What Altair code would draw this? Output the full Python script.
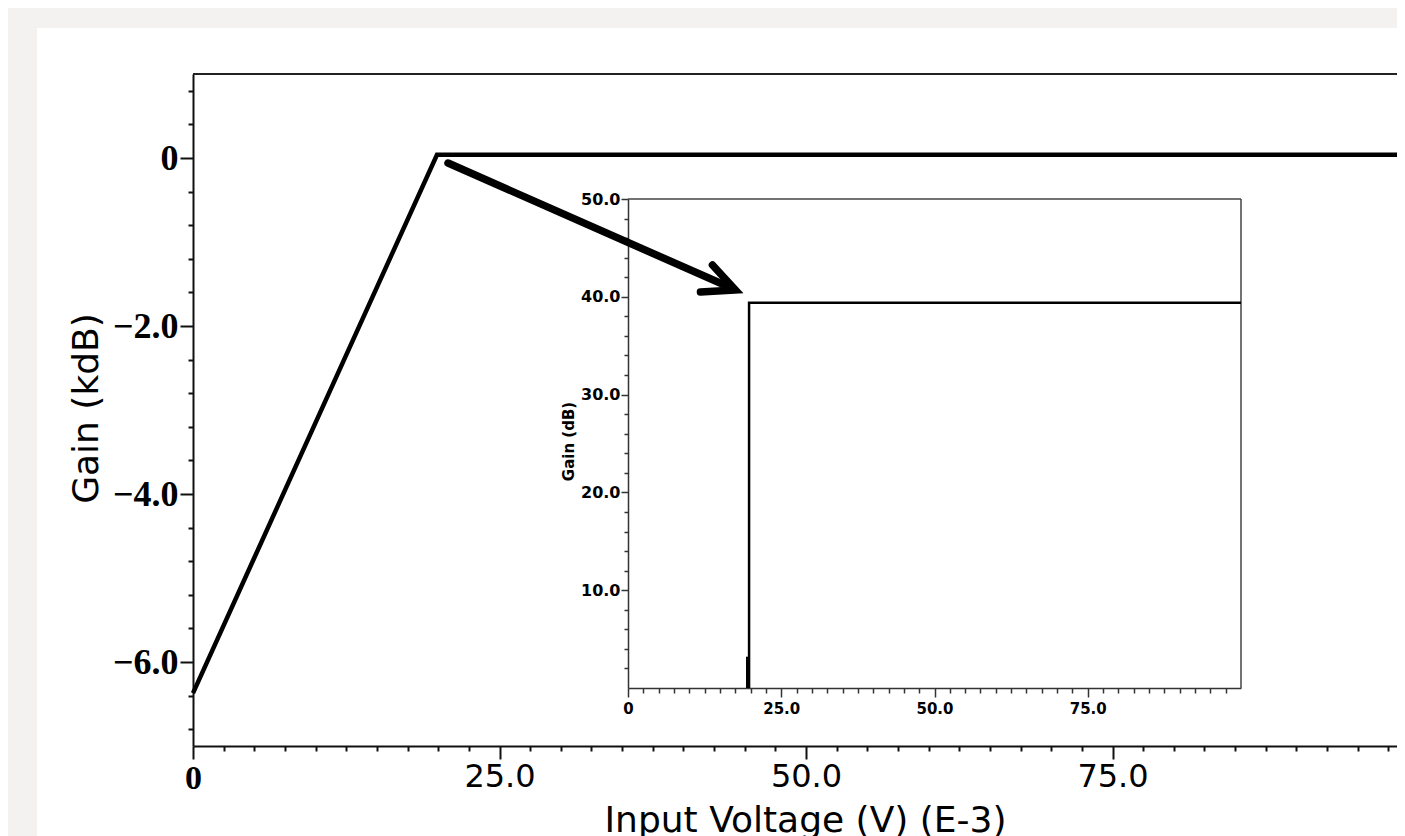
import altair as alt
import pandas as pd

# ---------------- data ----------------
# main trace: gain in kdB vs input voltage in mV
main_x = [0, 19.9, 100]
main_y = [-6.37, 0.039, 0.039]

# inset trace: gain in dB vs input voltage in mV (visible part, 0..50 dB)
inset_x = [19.75, 19.75, 100]
inset_y = [0, 39.4, 39.4]
stub_x = [19.45, 19.45]
stub_y = [0, 3.2]

# annotation arrow, in main-chart data units
arrow_x = [20.8, 44.1, 42.37, 44.24, 41.39]
arrow_y = [-0.06, -1.56, -1.274, -1.571, -1.595]
arrow_seg = ["shaft", "shaft", "head", "head", "head"]
arrow_ord = [0, 1, 0, 1, 2]

# ticks
main_x_ticks = [0, 25, 50, 75]
main_y_ticks = [0, -2, -4, -6]
inset_x_ticks = [0, 25, 50, 75]
inset_y_ticks = [10, 20, 30, 40, 50]
main_x_minor = [i * 2.5 for i in range(41) if i % 10 != 0]
main_y_minor = [round(-6.8 + 0.4 * i, 1) for i in range(20)
                if round(-6.8 + 0.4 * i, 1) not in (-6, -4, -2, 0)]
inset_x_minor = [i * 2.5 for i in range(40) if i % 10 != 0]
inset_y_minor = [v for v in range(2, 50, 2) if v % 10 != 0]

main_x_domain = [0, 100]
main_y_domain = [-7, 1]
inset_x_domain = [0, 100]
inset_y_domain = [0, 50]

# ---------------- layout (pixels) ----------------
W, H = 1204, 672
MX = alt.Scale(domain=main_x_domain, range=[0, 1226], nice=False, zero=False)
MY = alt.Scale(domain=main_y_domain, range=[672, 0], nice=False, zero=False)
IX = alt.Scale(domain=inset_x_domain, range=[435, 1048], nice=False, zero=False)
IY = alt.Scale(domain=inset_y_domain, range=[614, 125], nice=False, zero=False)

lab_expr = "datum.value == 0 ? '0' : format(datum.value, '.1f')"
INK = "#111111"

main_x_axis = alt.Axis(
    orient="bottom", values=main_x_ticks, grid=False,
    tickSize=13, tickWidth=2, tickColor=INK, domainColor=INK, domainWidth=2,
    labelExpr=lab_expr, labelColor="#000", labelPadding=2,
    labelFont={"condition": {"test": "datum.value == 0", "value": "Liberation Serif"}, "value": "DejaVu Sans"},
    labelFontWeight={"condition": {"test": "datum.value == 0", "value": "bold"}, "value": "normal"},
    labelFontSize={"condition": {"test": "datum.value == 0", "value": 34}, "value": 32},
    labelFlush=False, labelOverlap=False,
    title="Input Voltage (V) (E-3)", titleFont="DejaVu Sans", titleFontSize=36,
    titleFontWeight="normal", titleColor="#000", titleX=612, titleY=57, titleBaseline="top",
)
main_y_axis = alt.Axis(
    orient="left", values=main_y_ticks, grid=False,
    tickSize=13, tickWidth=2, tickColor=INK, domainColor=INK, domainWidth=2,
    labelExpr=lab_expr, labelColor="#000", labelPadding=2,
    labelFont="Liberation Serif", labelFontWeight="bold", labelFontSize=36,
    labelFlush=False, labelOverlap=False,
    title="Gain (kdB)", titleFont="DejaVu Sans", titleFontSize=36, titleFontWeight="normal",
    titleColor="#000", titleX=-107, titleY=334, titleBaseline="middle", titleAngle=270,
)
main_x_minor_axis = alt.Axis(
    orient="bottom", values=main_x_minor, grid=False, labels=False, domain=False,
    tickSize=5, tickWidth=2, tickColor=INK, title=None,
)
main_y_minor_axis = alt.Axis(
    orient="left", values=main_y_minor, grid=False, labels=False, domain=False,
    tickSize=5, tickWidth=2, tickColor=INK, title=None,
)

IN_INK = "#333333"
inset_x_axis = alt.Axis(
    orient="bottom", offset=-58, values=inset_x_ticks, grid=False,
    tickSize=9, tickWidth=1.5, tickColor=IN_INK, domainColor=IN_INK, domainWidth=1.5,
    labelExpr=lab_expr, labelColor="#000", labelPadding=4,
    labelFont="DejaVu Sans", labelFontWeight="bold", labelFontSize=15,
    labelFlush=False, labelOverlap=False, title=None,
)
inset_y_axis = alt.Axis(
    orient="left", offset=-435, values=inset_y_ticks, grid=False,
    tickSize=7, tickWidth=1.5, tickColor=IN_INK, domainColor=IN_INK, domainWidth=1.5,
    labelExpr="format(datum.value, '.1f')", labelColor="#000", labelPadding=1,
    labelFont="DejaVu Sans", labelFontWeight="bold", labelFontSize=16,
    labelFlush=False, labelOverlap=False,
    title="Gain (dB)", titleFont="DejaVu Sans", titleFontSize=15, titleFontWeight="bold",
    titleColor="#000", titleX=-60, titleY=367, titleBaseline="middle", titleAngle=270,
)
inset_x_minor_axis = alt.Axis(
    orient="bottom", offset=-58, values=inset_x_minor, grid=False, labels=False, domain=False,
    tickSize=5, tickWidth=1.5, tickColor=IN_INK, title=None,
)
inset_y_minor_axis = alt.Axis(
    orient="left", offset=-435, values=inset_y_minor, grid=False, labels=False, domain=False,
    tickSize=4, tickWidth=1.5, tickColor=IN_INK, title=None,
)

# ---------------- tables ----------------
df_main = pd.DataFrame({"x": main_x, "y": main_y})
df_inset = pd.DataFrame({"x": inset_x, "y": inset_y})
df_stub = pd.DataFrame({"x": stub_x, "y": stub_y})
df_arrow = pd.DataFrame({"x": arrow_x, "y": arrow_y, "seg": arrow_seg, "o": arrow_ord})
df_top = pd.DataFrame({"x0": [main_x_domain[0]], "x1": [main_x_domain[1]], "y": [main_y_domain[1]]})
df_frame = pd.DataFrame({
    "x0": [inset_x_domain[0], inset_x_domain[1]],
    "x1": [inset_x_domain[1], inset_x_domain[1]],
    "y0": [inset_y_domain[1], inset_y_domain[0]],
    "y1": [inset_y_domain[1], inset_y_domain[1]],
})
one = pd.DataFrame({"a": [0]})

BG = "#f3f2f1"
strip_top = alt.Chart(one).mark_rect(color=BG).encode(
    x=alt.value(-185), x2=alt.value(W), y=alt.value(-66), y2=alt.value(-46))
strip_left = alt.Chart(one).mark_rect(color=BG).encode(
    x=alt.value(-185), x2=alt.value(-156), y=alt.value(-66), y2=alt.value(770))

main_line = alt.Chart(df_main).mark_line(color="#000", strokeWidth=4.5).encode(
    x=alt.X("x:Q", scale=MX, axis=main_x_axis),
    y=alt.Y("y:Q", scale=MY, axis=main_y_axis),
)
main_top = alt.Chart(df_top).mark_rule(color="#222", strokeWidth=2).encode(
    x=alt.X("x0:Q", scale=MX, axis=main_x_minor_axis),
    x2="x1:Q",
    y=alt.Y("y:Q", scale=MY, axis=main_y_minor_axis),
)
inset_frame = alt.Chart(df_frame).mark_rule(color="#444", strokeWidth=1.5).encode(
    x=alt.X("x0:Q", scale=IX, axis=inset_x_minor_axis),
    x2="x1:Q",
    y=alt.Y("y0:Q", scale=IY, axis=inset_y_minor_axis),
    y2="y1:Q",
)
inset_line = alt.Chart(df_inset).mark_line(color="#000", strokeWidth=2.5).encode(
    x=alt.X("x:Q", scale=IX, axis=inset_x_axis),
    y=alt.Y("y:Q", scale=IY, axis=inset_y_axis),
    order=alt.Order("y:Q"),
)
inset_stub = alt.Chart(df_stub).mark_line(color="#000", strokeWidth=2.5).encode(
    x=alt.X("x:Q", scale=IX, axis=None),
    y=alt.Y("y:Q", scale=IY, axis=None),
)
arrow = alt.Chart(df_arrow).mark_line(
    color="#000", strokeWidth=7.5, strokeCap="round", strokeJoin="miter"
).encode(
    x=alt.X("x:Q", scale=MX, axis=None),
    y=alt.Y("y:Q", scale=MY, axis=None),
    detail="seg:N",
    order=alt.Order("o:Q"),
)

chart = alt.layer(
    strip_top, strip_left, main_line, main_top, inset_frame, inset_line, inset_stub, arrow
).resolve_scale(
    x="independent", y="independent"
).resolve_axis(
    x="independent", y="independent"
).properties(
    width=W, height=H,
    autosize=alt.AutoSizeParams(type="none"),
    padding={"left": 185, "top": 66, "right": 0, "bottom": 90},
    background="white",
).configure_view(stroke="transparent")

chart.save("out.html", embed_options={"renderer": "svg", "actions": False})
